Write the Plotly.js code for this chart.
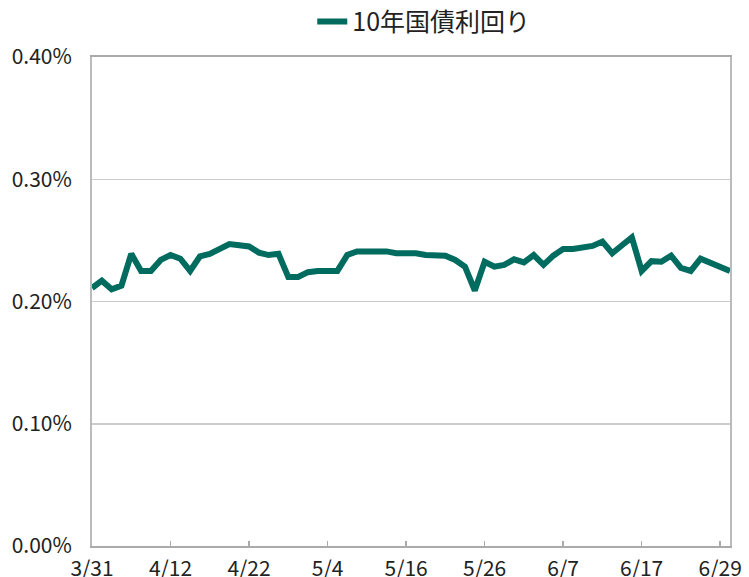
<!DOCTYPE html>
<html>
<head>
<meta charset="utf-8">
<script src="https://cdn.plot.ly/plotly-3.0.1.min.js"></script>
<style>
  html, body { margin: 0; padding: 0; background: #fff; }
  #chart { width: 749px; height: 577px; }
</style>
</head>
<body>
<div id="chart"></div>
<script>
// weekdays 2022/3/31 - 6/30
const dates = [
    '3/31', '4/1', '4/4', '4/5', '4/6', '4/7', '4/8', '4/11', '4/12', '4/13',
    '4/14', '4/15', '4/18', '4/19', '4/20', '4/21', '4/22', '4/25', '4/26', '4/27',
    '4/28', '4/29', '5/2', '5/3', '5/4', '5/5', '5/6', '5/9', '5/10', '5/11',
    '5/12', '5/13', '5/16', '5/17', '5/18', '5/19', '5/20', '5/23', '5/24', '5/25',
    '5/26', '5/27', '5/30', '5/31', '6/1', '6/2', '6/3', '6/6', '6/7', '6/8',
    '6/9', '6/10', '6/13', '6/14', '6/15', '6/16', '6/17', '6/20', '6/21', '6/22',
    '6/23', '6/24', '6/27', '6/28', '6/29', '6/30'
];

// 10-year JGB yield, %
const yields = [
    0.211, 0.217, 0.210, 0.213, 0.239, 0.225, 0.225, 0.234, 0.238, 0.235,
    0.225, 0.237, 0.239, 0.243, 0.247, 0.246, 0.245, 0.240, 0.238, 0.239,
    0.220, 0.220, 0.224, 0.225, 0.225, 0.225, 0.238, 0.241, 0.241, 0.241,
    0.241, 0.2395, 0.2395, 0.2395, 0.238, 0.238, 0.2375, 0.234, 0.2285, 0.209,
    0.2325, 0.2285, 0.230, 0.2345, 0.232, 0.238, 0.230, 0.2375, 0.243, 0.243,
    0.244, 0.2455, 0.249, 0.2395, 0.246, 0.2525, 0.225, 0.233, 0.2325, 0.2375,
    0.2275, 0.225, 0.235, 0.2315, 0.2285, 0.225
];

const tickDates = ['3/31', '4/12', '4/22', '5/4', '5/16', '5/26', '6/7', '6/17', '6/29'];
const yTicks = [0, 0.1, 0.2, 0.3, 0.4];
const seriesName = '10年国債利回り';

const FONT = '"Noto Sans CJK JP", "Noto Sans", sans-serif';
const LINE_COLOR = '#006b5f';

const traces = [{
    x: dates,
    y: yields,
    name: seriesName,
    type: 'scatter',
    mode: 'lines',
    line: { color: LINE_COLOR, width: 6 },
    showlegend: true
}];

const layout = {
    width: 749,
    height: 577,
    margin: { l: 92, r: 19, t: 57, b: 31, autoexpand: false },
    paper_bgcolor: '#fff',
    plot_bgcolor: '#fff',
    font: { family: FONT, size: 21, color: '#222' },
    showlegend: true,
    legend: {
        orientation: 'h',
        x: 0.52, xanchor: 'center',
        y: 1.072, yanchor: 'middle',
        font: { family: FONT, size: 25, color: '#222' }
    },
    xaxis: {
        type: 'category',
        range: [0, dates.length - 1],
        tickmode: 'array',
        tickvals: tickDates,
        ticktext: tickDates,
        ticks: 'inside',
        ticklen: 5,
        tickwidth: 1.5,
        tickcolor: '#aaa',
        showgrid: false,
        showline: true,
        linecolor: '#aaa',
        linewidth: 2,
        mirror: true,
        ticklabelstandoff: 3,
        automargin: false,
        tickfont: { family: FONT, size: 21, color: '#222' }
    },
    yaxis: {
        range: [0, 0.4],
        tickmode: 'array',
        tickvals: yTicks,
        ticktext: yTicks.map(v => v.toFixed(2) + '%'),
        showgrid: true,
        gridcolor: '#cccccc',
        gridwidth: 1.5,
        zeroline: false,
        showline: true,
        linecolor: '#bbb',
        linewidth: 2,
        mirror: true,
        ticks: '',
        ticklabelstandoff: 14,
        automargin: false,
        tickfont: { family: FONT, size: 21, color: '#222' }
    }
};

Plotly.newPlot('chart', traces, layout, { staticPlot: true, displayModeBar: false });
</script>
</body>
</html>
